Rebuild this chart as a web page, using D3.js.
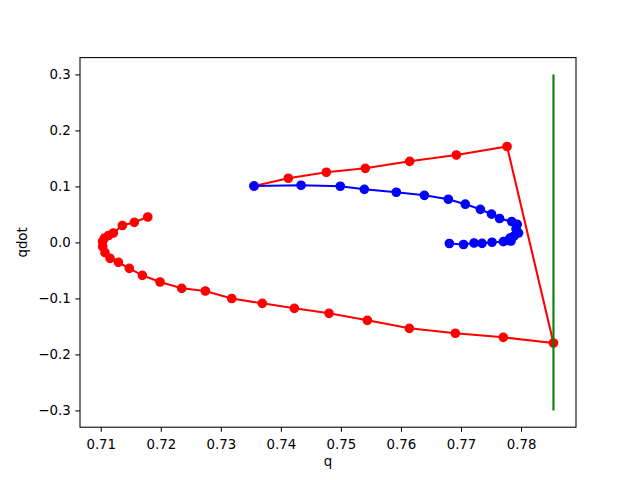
<!DOCTYPE html>
<html>
  <head>
    <meta charset="utf-8"/>
    <title>q vs qdot</title>
    <style>
      body { margin: 0; background: #fff; }
      text { font-family: "DejaVu Sans", sans-serif; }
      .tick text { font-size: 13.33px; fill: #000; }
      .tick line { stroke: #000; stroke-width: 1.07px; }
      .frame { fill: none; stroke: #000; stroke-width: 1.07px; }
    </style>
    <script src="https://d3js.org/d3.v7.min.js"></script>
  </head>
  <body>
    <svg id="chart" width="640" height="480"></svg>
    <script>
      // red trajectory (in path order)
      var redQ = [0.73553, 0.74124, 0.74757, 0.75407, 0.76146, 0.76923, 0.77767, 0.785398,
                  0.77705, 0.76906, 0.7614, 0.7544, 0.74802, 0.74224, 0.73691, 0.73182,
                  0.72742, 0.72349, 0.71987, 0.71693, 0.71476, 0.71293, 0.71155, 0.71071,
                  0.71033, 0.71030, 0.71063, 0.71130, 0.7121, 0.7136, 0.71559, 0.71783];
      var redQdot = [0.1007, 0.1145, 0.1252, 0.1323, 0.1448, 0.1561, 0.1713, -0.1796,
                     -0.1695, -0.1623, -0.1534, -0.1391, -0.1266, -0.1177, -0.1088, -0.1002,
                     -0.0868, -0.082, -0.0707, -0.0588, -0.0463, -0.0355, -0.0284, -0.0184,
                     -0.0077, 0.0016, 0.0079, 0.0123, 0.0168, 0.0302, 0.0359, 0.0454];

      // blue trajectory
      var blueQ = [0.73553, 0.74336, 0.7499, 0.7539, 0.75923, 0.7639, 0.76789, 0.77072,
                   0.77322, 0.77509, 0.77642, 0.77845, 0.77937, 0.77917, 0.77958, 0.77884,
                   0.77817, 0.77792, 0.77833, 0.77705, 0.77517, 0.77351, 0.77217, 0.77042,
                   0.76806];
      var blueQdot = [0.1007, 0.102, 0.1002, 0.0948, 0.0895, 0.0841, 0.077, 0.0682,
                      0.0591, 0.0504, 0.0427, 0.0373, 0.0323, 0.0239, 0.0168, 0.0114,
                      0.0079, 0.0034, 0.0025, 0.0013, 0.0002, -0.0016, -0.0011, -0.0037,
                      -0.002];

      // green vertical line at pi/4
      var greenQ = [Math.PI / 4, Math.PI / 4];
      var greenQdot = [-0.3, 0.3];

      var xTicks = [0.71, 0.72, 0.73, 0.74, 0.75, 0.76, 0.77, 0.78];
      var yTicks = [-0.3, -0.2, -0.1, 0.0, 0.1, 0.2, 0.3];

      var padL = 80, padR = 576, padT = 57.6, padB = 427.2;

      var svg = d3.select("#chart");

      // matplotlib style 5% margins
      var allQ = redQ.concat(blueQ, greenQ);
      var allQdot = redQdot.concat(blueQdot, greenQdot);
      var qMin = d3.min(allQ), qMax = d3.max(allQ);
      var dMin = d3.min(allQdot), dMax = d3.max(allQdot);
      var qPad = (qMax - qMin) * 0.05, dPad = (dMax - dMin) * 0.05;

      var x = d3.scaleLinear().domain([qMin - qPad, qMax + qPad]).range([padL, padR]);
      var y = d3.scaleLinear().domain([dMin - dPad, dMax + dPad]).range([padB, padT]);

      var line = d3.line()
        .x(function(d) { return x(d[0]); })
        .y(function(d) { return y(d[1]); });

      function drawSeries(qs, qdots, color, markers) {
        var pts = d3.zip(qs, qdots);
        svg.append("path")
          .datum(pts)
          .attr("d", line)
          .attr("fill", "none")
          .attr("stroke", color)
          .attr("stroke-width", 2.08);
        if (markers) {
          svg.append("g").selectAll("circle")
            .data(pts)
            .enter().append("circle")
              .attr("cx", function(d) { return x(d[0]); })
              .attr("cy", function(d) { return y(d[1]); })
              .attr("r", 4.17)
              .attr("fill", color)
              .attr("stroke", color)
              .attr("stroke-width", 1.33);
        }
      }

      drawSeries(redQ, redQdot, "#ff0000", true);
      drawSeries(blueQ, blueQdot, "#0000ff", true);
      drawSeries(greenQ, greenQdot, "#008000", false);

      // axes
      var xAxis = svg.append("g")
        .attr("transform", "translate(0," + padB + ")")
        .call(d3.axisBottom(x).tickValues(xTicks).tickFormat(d3.format(".2f"))
          .tickSize(4.67).tickPadding(7.7));
      xAxis.select(".domain").remove();

      var yAxis = svg.append("g")
        .attr("transform", "translate(" + padL + ",0)")
        .call(d3.axisLeft(y).tickValues(yTicks).tickFormat(d3.format(".1f"))
          .tickSize(4.67).tickPadding(4.67));
      yAxis.select(".domain").remove();
      svg.selectAll(".tick text").attr("font-family", null).attr("font-size", null);

      svg.append("rect")
        .attr("class", "frame")
        .attr("x", padL)
        .attr("y", padT)
        .attr("width", padR - padL)
        .attr("height", padB - padT);

      // labels
      svg.append("text")
        .attr("x", (padL + padR) / 2)
        .attr("y", 466)
        .attr("text-anchor", "middle")
        .attr("font-size", "13.33px")
        .text("q");

      svg.append("text")
        .attr("transform", "translate(27," + (padT + padB) / 2 + ") rotate(-90)")
        .attr("text-anchor", "middle")
        .attr("font-size", "13.33px")
        .text("qdot");
    </script>
  </body>
</html>
